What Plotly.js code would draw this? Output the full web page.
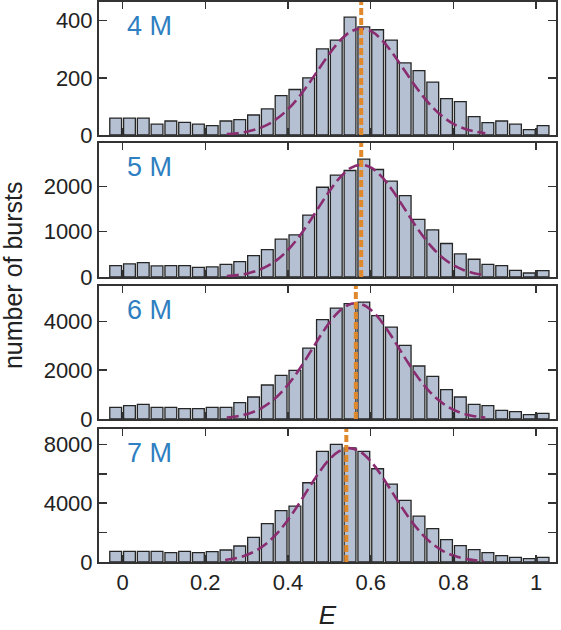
<!DOCTYPE html>
<html>
<head>
<meta charset="utf-8">
<script src="https://cdn.plot.ly/plotly-3.0.1.min.js"></script>
<style>html,body{margin:0;padding:0;background:#fff;}#chart{width:561px;height:630px;}</style>
</head>
<body>
<div id="chart"></div>
<script>
// ---------- data ----------
const binCenters = [-0.0167, 0.0167, 0.05, 0.0833, 0.1167, 0.15, 0.1833, 0.2167, 0.25, 0.2833,
  0.3167, 0.35, 0.3833, 0.4167, 0.45, 0.4833, 0.5167, 0.55, 0.5833, 0.6167,
  0.65, 0.6833, 0.7167, 0.75, 0.7833, 0.8167, 0.85, 0.8833, 0.9167, 0.95, 0.9833, 1.0167];

const counts4M = [59,59,59,38,49,44,38,33,49,54,70,91,138,159,200,301,332,412,378,368,332,252,225,185,127,117,64,43,49,38,19,33];
const counts5M = [252,289,318,244,252,252,215,222,281,340,474,607,836,932,1369,1983,2250,2353,2605,2375,2116,1798,1273,1043,740,511,392,281,252,148,89,141];
const counts6M = [478,546,601,478,478,423,423,478,478,669,901,1392,1788,1993,2907,4068,4545,4723,4791,4232,3767,3017,2170,1747,1201,901,601,546,355,300,177,232];
const counts7M = [725,725,725,725,634,725,634,702,816,1088,1677,2606,3490,3807,5393,7523,7999,7772,7523,6345,5302,4192,3127,2266,1518,1110,838,634,431,317,227,317];

const fitX4M = [0.252,0.277,0.302,0.327,0.352,0.377,0.402,0.427,0.452,0.477,0.502,0.527,0.552,0.577,0.602,0.627,0.652,0.677,0.702,0.727,0.752,0.777,0.802,0.827,0.852,0.877];
const fitY4M = [3,6,12,22,37,61,93,134,183,236,288,332,362,372,362,332,288,236,183,134,93,61,37,22,12,6];
const fitX5M = [0.252,0.277,0.302,0.327,0.352,0.377,0.402,0.427,0.452,0.477,0.502,0.527,0.552,0.577,0.602,0.627,0.652,0.677,0.702,0.727,0.752,0.777,0.802,0.827,0.852,0.877];
const fitY5M = [21,42,80,146,250,404,619,894,1221,1576,1922,2214,2411,2480,2411,2214,1922,1576,1221,894,619,404,250,146,80,42];
const fitX6M = [0.252,0.264,0.289,0.314,0.339,0.364,0.389,0.414,0.439,0.464,0.489,0.514,0.539,0.564,0.589,0.614,0.639,0.664,0.689,0.714,0.739,0.764,0.789,0.814,0.839,0.864,0.877];
const fitY6M = [55,80,154,279,478,774,1185,1712,2338,3018,3680,4241,4617,4750,4617,4241,3680,3018,2338,1712,1185,774,478,279,154,80,58];
const fitX7M = [0.248,0.273,0.298,0.323,0.348,0.373,0.398,0.423,0.448,0.473,0.498,0.523,0.548,0.573,0.598,0.623,0.648,0.673,0.698,0.723,0.748,0.773,0.798,0.823,0.848,0.873];
const fitY7M = [131,251,455,780,1263,1933,2793,3815,4924,6005,6919,7534,7750,7534,6919,6005,4924,3815,2793,1933,1263,780,455,251,131,64];

const peakE = [0.577, 0.577, 0.564, 0.541];
const panelLabels = ['4 M', '5 M', '6 M', '7 M'];
const yTickVals = [[0,200,400],[0,1000,2000],[0,2000,4000],[0,2000,4000,6000,8000]];
const yTickText = [['0','200','400'],['0','1000','2000'],['0','2000','4000'],['0','','4000','','8000']];
const yMax = [465, 2960, 5450, 9050];
const xTickVals = [0, 0.2, 0.4, 0.6, 0.8, 1];
const xTickText = ['0', '0.2', '0.4', '0.6', '0.8', '1'];
const yTitle = 'number of bursts';
const xTitle = 'E';

// ---------- styles ----------
const FONT = 'Liberation Sans, Arial, Helvetica, sans-serif';
const TXT = '#222222';
const LINEC = '#333333';
const BARFILL = '#b5c1d2';
const BAROUT = '#262626';
const FITC = '#8a2c70';
const PEAKC = '#e0882c';
const LABELC = '#2f7fc1';
const domains = [[0.7625, 1], [0.5089, 0.7482], [0.2554, 0.4929], [0, 0.2375]];

const counts = [counts4M, counts5M, counts6M, counts7M];
const fitX = [fitX4M, fitX5M, fitX6M, fitX7M];
const fitY = [fitY4M, fitY5M, fitY6M, fitY7M];

const traces = [];
const layout = {
  width: 561, height: 630,
  margin: {l: 99, r: 5, t: 2, b: 68},
  paper_bgcolor: '#ffffff', plot_bgcolor: '#ffffff',
  showlegend: false,
  font: {family: FONT, color: TXT, size: 22},
  shapes: [], annotations: []
};

for (let i = 0; i < 4; i++) {
  const sx = i === 0 ? '' : String(i + 1);
  const xa = 'x' + sx, ya = 'y' + sx;
  traces.push({
    type: 'bar', x: binCenters, y: counts[i], xaxis: xa, yaxis: ya,
    width: 0.0285,
    marker: {color: BARFILL, line: {color: BAROUT, width: 1.3}},
    hoverinfo: 'x+y'
  });
  traces.push({
    type: 'scatter', mode: 'lines', x: fitX[i], y: fitY[i], xaxis: xa, yaxis: ya,
    line: {color: FITC, width: 2.6, dash: '12px,5px', shape: 'spline', smoothing: 1}
  });
  layout['xaxis' + sx] = {
    anchor: ya, domain: [0, 1], range: [-0.057, 1.048],
    tickmode: 'array', tickvals: xTickVals, ticktext: xTickText,
    showticklabels: i === 3,
    ticks: 'inside', ticklen: 7, tickwidth: 1.5, tickcolor: LINEC,
    showline: true, linewidth: 2, linecolor: LINEC, mirror: 'ticks',
    showgrid: false, zeroline: false,
    tickfont: {family: FONT, size: 22, color: TXT}
  };
  if (i === 3) {
    layout['xaxis' + sx].title = {text: '<i>' + xTitle + '</i>', font: {family: FONT, size: 26, color: TXT}, standoff: 14};
  }
  layout['yaxis' + sx] = {
    anchor: xa, domain: domains[i], range: [0, yMax[i]],
    tickmode: 'array', tickvals: yTickVals[i], ticktext: yTickText[i],
    ticks: 'inside', ticklen: 8, tickwidth: 1.5, tickcolor: LINEC,
    showline: true, linewidth: 2, linecolor: LINEC, mirror: 'ticks',
    showgrid: false, zeroline: false,
    tickfont: {family: FONT, size: 22, color: TXT}
  };
  layout.shapes.push({
    type: 'line', xref: xa, yref: ya + ' domain', x0: peakE[i], x1: peakE[i], y0: 0, y1: 1,
    line: {color: PEAKC, width: 4, dash: '7px,3px'}
  });
  layout.annotations.push({
    text: panelLabels[i], xref: xa + ' domain', yref: ya + ' domain',
    x: 0.056, y: 0.82, xanchor: 'left', yanchor: 'middle', showarrow: false,
    font: {family: FONT, size: 27, color: LABELC}
  });
}

layout.annotations.push({
  text: yTitle, xref: 'paper', yref: 'paper', x: -0.188, y: 0.5125,
  xanchor: 'center', yanchor: 'middle', textangle: -90, showarrow: false,
  font: {family: FONT, size: 25, color: TXT}
});

Plotly.newPlot('chart', traces, layout, {displayModeBar: false, staticPlot: true});
</script>
</body>
</html>
